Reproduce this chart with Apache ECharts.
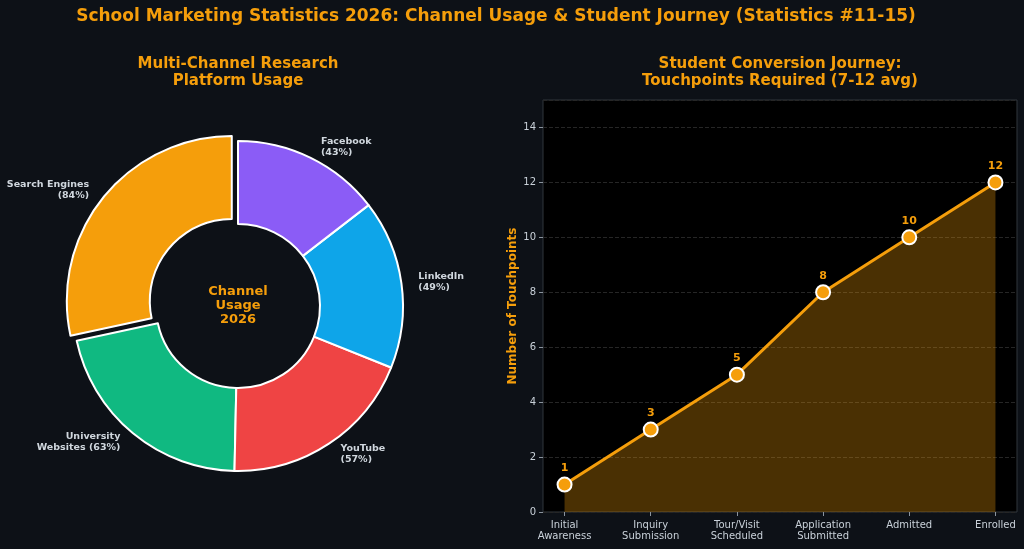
<!DOCTYPE html>
<html>
<head>
<meta charset="utf-8">
<script src="https://cdn.jsdelivr.net/npm/echarts@6/dist/echarts.min.js"></script>
<style>
  html, body { margin: 0; padding: 0; background: #0d1117; }
  #main { width: 1024px; height: 549px; }
</style>
</head>
<body>
<div id="main"></div>
<script>
// channel usage (pie) - counterclockwise from top, like the source
var channels = ['Search Engines', 'University\nWebsites', 'YouTube', 'LinkedIn', 'Facebook'];
var channelUsage = [84, 63, 57, 49, 43];
var channelColors = ['#f59e0b', '#10b981', '#ef4444', '#0ea5e9', '#8b5cf6'];

// conversion journey (line)
var stages = ['Initial\nAwareness', 'Inquiry\nSubmission', 'Tour/Visit\nScheduled', 'Application\nSubmitted', 'Admitted', 'Enrolled'];
var touchpoints = [1, 3, 5, 8, 10, 12];
var yTicks = [0, 2, 4, 6, 8, 10, 12, 14];

var orange = '#f59e0b';
var textGray = '#c9d1d9';

function labelFor(name, v) {
    // University label wraps differently
    if (name.indexOf('\n') >= 0) return name + ' (' + v + '%)';
    return name + '\n(' + v + '%)';
}

var pieData = channels.map(function (c, i) {
    return {
        name: c,
        value: channelUsage[i],
        selected: i === 0,
        itemStyle: { color: channelColors[i] }
    };
});

var myChart = echarts.init(document.getElementById('main'));
option = {
    backgroundColor: '#0d1117',
    textStyle: { fontFamily: 'DejaVu Sans' },
    title: [
        {
            text: 'School Marketing Statistics 2026: Channel Usage & Student Journey (Statistics #11-15)',
            left: 491, top: 3, textAlign: 'center',
            textStyle: { color: orange, fontSize: 17, fontWeight: 'bold', fontFamily: 'DejaVu Sans' }
        },
        {
            text: 'Multi-Channel Research\nPlatform Usage',
            left: 233, top: 51, textAlign: 'center',
            textStyle: { color: orange, fontSize: 15, fontWeight: 'bold', lineHeight: 17, fontFamily: 'DejaVu Sans' }
        },
        {
            text: 'Student Conversion Journey:\nTouchpoints Required (7-12 avg)',
            left: 775, top: 51, textAlign: 'center',
            textStyle: { color: orange, fontSize: 15, fontWeight: 'bold', lineHeight: 17, fontFamily: 'DejaVu Sans' }
        },
        {
            text: 'Channel\nUsage\n2026',
            left: 233, top: 280, textAlign: 'center',
            textStyle: { color: orange, fontSize: 13, fontWeight: 'bold', lineHeight: 14, fontFamily: 'DejaVu Sans' }
        }
    ],
    grid: {
        left: 543, right: 7, top: 100, bottom: 37,
        show: true,
        backgroundColor: '#000000',
        borderColor: '#30363d',
        borderWidth: 1
    },
    xAxis: {
        type: 'value',
        min: -0.25,
        max: 5.25,
        axisLine: { show: false, onZero: false },
        splitLine: { show: false },
        axisTick: {
            show: true, length: 4,
            customValues: [0, 1, 2, 3, 4, 5],
            lineStyle: { color: '#8b949e' }
        },
        axisLabel: {
            customValues: [0, 1, 2, 3, 4, 5],
            formatter: function (v) { return stages[Math.round(v)]; },
            color: textGray, fontSize: 10, lineHeight: 11, margin: 8
        }
    },
    yAxis: {
        type: 'value',
        min: 0,
        max: 15,
        interval: 2,
        name: 'Number of Touchpoints',
        nameLocation: 'middle',
        nameGap: 24,
        nameTextStyle: { color: orange, fontSize: 12, fontWeight: 'bold' },
        axisLine: { show: false, onZero: false },
        axisTick: { show: true, length: 4, lineStyle: { color: '#8b949e' } },
        axisLabel: { color: textGray, fontSize: 10, margin: 7, showMaxLabel: false },
        splitLine: { show: true, lineStyle: { color: '#262626', type: 'dashed', width: 1 } }
    },
    series: [
        {
            type: 'pie',
            center: [238, 306],
            radius: [82, 165],
            clockwise: false,
            startAngle: 90,
            selectedMode: 'single',
            selectedOffset: 8,
            silent: true,
            itemStyle: { borderColor: '#ffffff', borderWidth: 2 },
            label: {
                show: true,
                position: 'outside',
                formatter: function (p) { return labelFor(p.name, p.value); },
                color: '#d0d7de',
                fontSize: 9.5,
                fontWeight: 'bold',
                lineHeight: 11,
                overflow: 'none'
            },
            labelLine: { show: false, length: 12, length2: 0 },
            data: pieData
        },
        {
            type: 'line',
            data: touchpoints.map(function (v, i) { return [i, v]; }),
            lineStyle: { color: orange, width: 3 },
            itemStyle: { color: orange, borderColor: '#ffffff', borderWidth: 2 },
            symbol: 'circle',
            symbolSize: 14,
            areaStyle: { color: orange, opacity: 0.3 },
            label: {
                show: true,
                position: 'top',
                distance: 3,
                color: orange,
                fontSize: 11,
                fontWeight: 'bold'
            },
            z: 3
        }
    ]
};
myChart.setOption(option, true);
</script>
</body>
</html>
